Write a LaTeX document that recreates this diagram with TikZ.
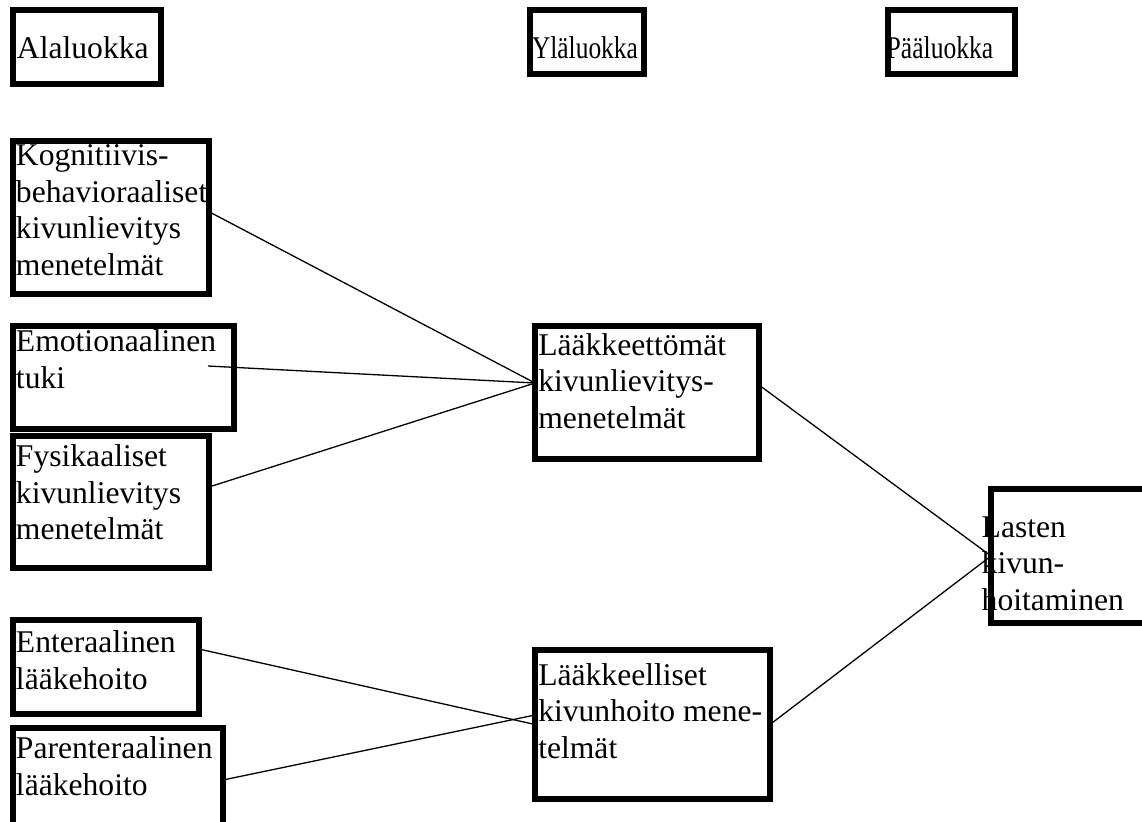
\documentclass[tikz,border=0pt]{standalone}
\usepackage{fontspec}
\setmainfont{Liberation Serif}
\usetikzlibrary{positioning}

\begin{document}
\begin{tikzpicture}[
    x=0.5pt, y=-0.5pt,
    every node/.style = {font=\fontsize{15.8pt}{18.25pt}\selectfont},
    catbox/.style     = {rectangle, draw=black, line width=2.8pt, anchor=north west,
                          inner sep=0pt, outer sep=0pt},
    txt/.style        = {align=left, inner sep=0pt, outer sep=0pt},
    link/.style       = {draw=black, line width=0.65pt},
]
\useasboundingbox (0,0) rectangle (1142,821);
\clip (0,0) rectangle (1142,821);

% Column headers (the two right ones are squeezed in the original)
\node[catbox, minimum width=74pt, minimum height=37pt] (ala) at (13,10) {};
\node[catbox, minimum width=57pt, minimum height=32pt] (yla) at (530,10) {};
\node[catbox, minimum width=63.5pt, minimum height=32pt] (paa) at (888,10) {};
\node[txt, below right=13.35pt and 2pt of ala.north west] (alaT) {Alaluokka};
\node[txt, below right=13.35pt and 1pt of yla.north west] (ylaT) {\scalebox{0.805}[1]{Yläluokka}};
\node[txt, below right=13.35pt and -0.65pt of paa.north west] (paaT) {\scalebox{0.81}[1]{Pääluokka}};

% Subcategories (left column)
\node[catbox, minimum width=98pt, minimum height=76.5pt] (kog) at (13,141) {};
\node[catbox, minimum width=110.5pt, minimum height=51.5pt] (emo) at (13,326) {};
\node[catbox, minimum width=98pt, minimum height=66pt] (fys) at (13,436) {};
\node[catbox, minimum width=93pt, minimum height=47pt] (ent) at (13,620) {};
\node[catbox, minimum width=105pt, minimum height=56pt] (par) at (13,728) {};
\node[txt, below right=2pt and 1.5pt of kog.north west] (kogT)
    {Kognitiivis-\\behavioraaliset\\kivunlievitys\\menetelmät};
\node[txt, below right=2pt and 1.5pt of emo.north west] (emoT) {Emotionaalinen\\tuki};
\node[txt, below right=4.5pt and 1.5pt of fys.north west] (fysT)
    {Fysikaaliset\\kivunlievitys\\menetelmät};
\node[txt, below right=5.35pt and 1.5pt of ent.north west] (entT) {Enteraalinen\\lääkehoito};
\node[txt, below right=4.35pt and 1.5pt of par.north west] (parT) {Parenteraalinen\\lääkehoito};

% Upper categories (middle column)
\node[catbox, minimum width=112pt, minimum height=66.5pt] (lkt) at (535,326) {};
\node[catbox, minimum width=117.5pt, minimum height=74.5pt] (lkl) at (535,650) {};
\node[txt, below right=3.65pt and 1.65pt of lkt.north west] (lktT)
    {Lääkkeettömät\\kivunlievitys-\\menetelmät};
\node[txt, below right=6.65pt and 1.65pt of lkl.north west] (lklT)
    {Lääkkeelliset\\kivunhoito mene-\\telmät};

% Main category (right column)
\node[catbox, minimum width=89.5pt, minimum height=67pt] (las) at (991,489) {};
\node[txt, below right=13.85pt and -4.65pt of las.north west] (lasT)
    {Lasten\\kivun-\\hoitaminen};

% Connectors
\coordinate (lktIn) at ([yshift=4.75pt]lkt.west);
\coordinate (lklIn) at ([yshift=4.75pt]lkl.west);
\draw[link] ([yshift=2.9pt]kog.east) -- (lktIn);
\draw[link] ([xshift=-13pt,yshift=5.75pt]emo.east) -- (lktIn);
\draw[link] ([yshift=7.5pt]fys.east) -- (lktIn);
\draw[link] ([yshift=9pt]ent.east) -- (lkl.west);
\draw[link] ([yshift=2pt]par.east) -- (lklIn);
\draw[link] ([yshift=3.75pt]lkt.east) -- (las.west);
\draw[link] (lkl.east) -- (las.west);

\end{tikzpicture}
\end{document}
